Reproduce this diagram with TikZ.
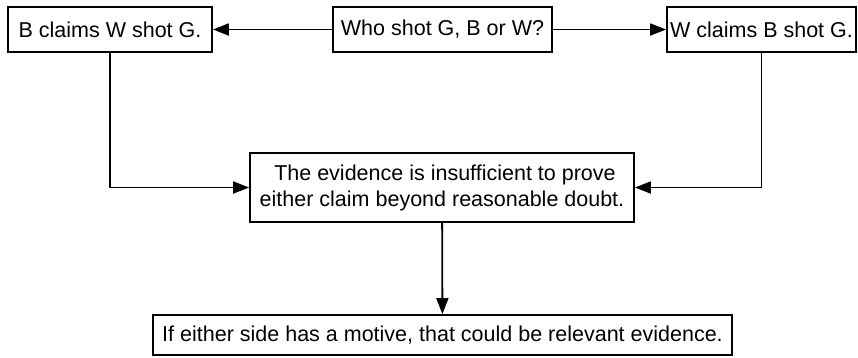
\documentclass[tikz,border=0pt]{standalone}
\usepackage{fontspec}
\setmainfont{Liberation Sans}
\usetikzlibrary{arrows.meta}
\begin{document}
\begin{tikzpicture}[x=1pt,y=-1pt,
    box/.style={draw,line width=1.8pt,inner sep=0pt,align=center,
      font=\fontsize{21.5}{26}\selectfont},
    link/.style={line width=1.8pt,-{Triangle[length=16pt,width=12pt]}}]
      \useasboundingbox (0,0) rectangle (858,357);
      \draw
        (110,29.5) node[box,minimum width=204pt,minimum height=45pt] (bclaim){B claims W shot G.}
        (442.5,29.5) node[box,minimum width=219pt,minimum height=45pt] (who){Who shot G, B or W?}
        (761.5,29.5) node[box,minimum width=189pt,minimum height=45pt] (wclaim){W claims B shot G.}
        (442,187.5) node[box,minimum width=384pt,minimum height=69pt] (evid){\ The evidence is insufficient to prove\\either claim beyond reasonable doubt.}
        (442.5,335) node[box,minimum width=579pt,minimum height=40pt] (motive){If either side has a motive, that could be relevant evidence.};
      \begin{scope}[link]
        \draw (who) to (bclaim);
        \draw (who) to (wclaim);
        \draw (bclaim) |- (evid);
        \draw (wclaim) |- (evid);
        \draw (evid) to (motive);
      \end{scope}
    \end{tikzpicture}
\end{document}
